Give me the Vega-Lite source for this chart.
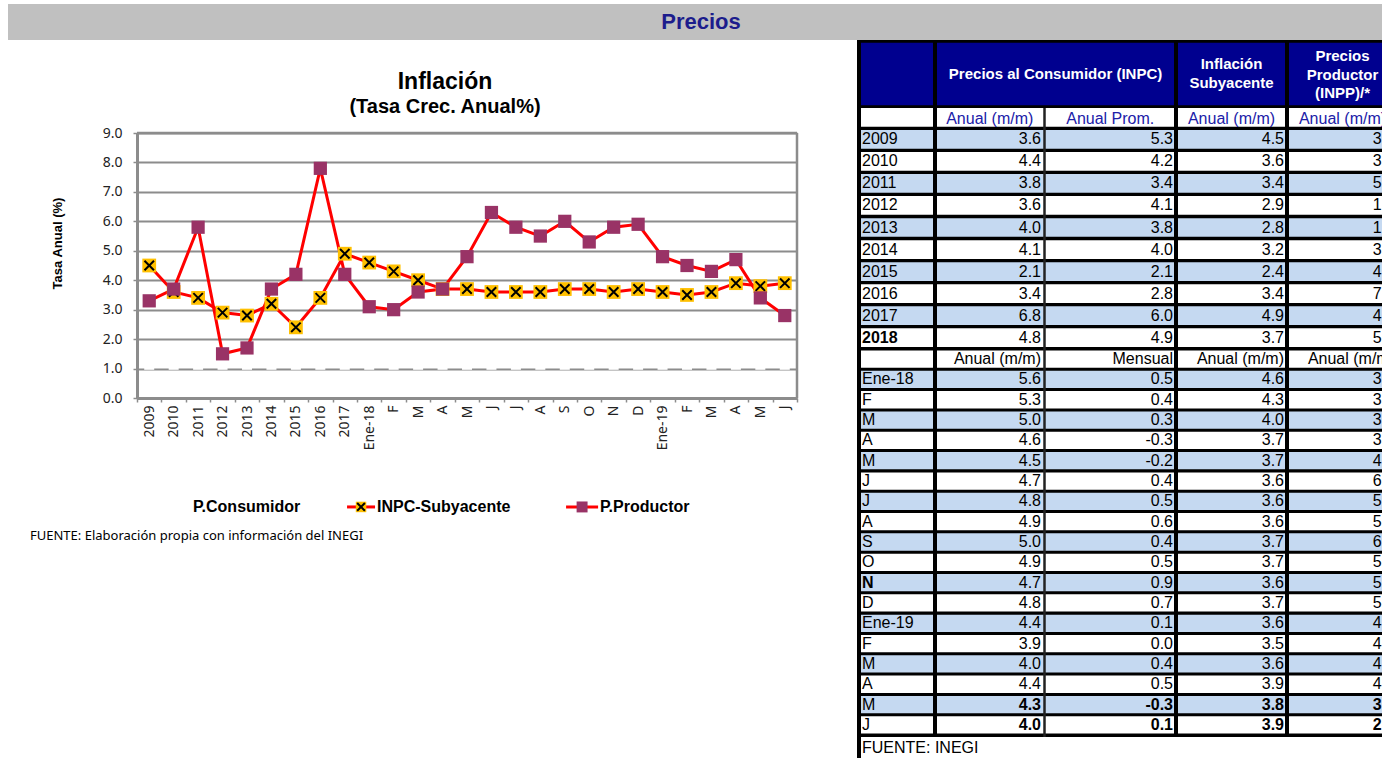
{
  "$schema": "https://vega.github.io/schema/vega-lite/v6.json",
  "padding": {"left": 8, "top": 4, "right": 0, "bottom": 0},
  "config": {
    "view": {"stroke": null},
    "font": "Liberation Sans",
    "locale": {"number": {"decimal": ".", "thousands": ",", "grouping": [3], "currency": ["$", ""], "minus": "-"}}
  },
  "datasets": {
    "chart": [
      {"i": 0, "cons": 1.0, "sub": 4.5, "prod": 3.3},
      {"i": 1, "cons": 1.0, "sub": 3.6, "prod": 3.7},
      {"i": 2, "cons": 1.0, "sub": 3.4, "prod": 5.8},
      {"i": 3, "cons": 1.0, "sub": 2.9, "prod": 1.5},
      {"i": 4, "cons": 1.0, "sub": 2.8, "prod": 1.7},
      {"i": 5, "cons": 1.0, "sub": 3.2, "prod": 3.7},
      {"i": 6, "cons": 1.0, "sub": 2.4, "prod": 4.2},
      {"i": 7, "cons": 1.0, "sub": 3.4, "prod": 7.8},
      {"i": 8, "cons": 1.0, "sub": 4.9, "prod": 4.2},
      {"i": 9, "cons": 1.0, "sub": 4.6, "prod": 3.1},
      {"i": 10, "cons": 1.0, "sub": 4.3, "prod": 3.0},
      {"i": 11, "cons": 1.0, "sub": 4.0, "prod": 3.6},
      {"i": 12, "cons": 1.0, "sub": 3.7, "prod": 3.7},
      {"i": 13, "cons": 1.0, "sub": 3.7, "prod": 4.8},
      {"i": 14, "cons": 1.0, "sub": 3.6, "prod": 6.3},
      {"i": 15, "cons": 1.0, "sub": 3.6, "prod": 5.8},
      {"i": 16, "cons": 1.0, "sub": 3.6, "prod": 5.5},
      {"i": 17, "cons": 1.0, "sub": 3.7, "prod": 6.0},
      {"i": 18, "cons": 1.0, "sub": 3.7, "prod": 5.3},
      {"i": 19, "cons": 1.0, "sub": 3.6, "prod": 5.8},
      {"i": 20, "cons": 1.0, "sub": 3.7, "prod": 5.9},
      {"i": 21, "cons": 1.0, "sub": 3.6, "prod": 4.8},
      {"i": 22, "cons": 1.0, "sub": 3.5, "prod": 4.5},
      {"i": 23, "cons": 1.0, "sub": 3.6, "prod": 4.3},
      {"i": 24, "cons": 1.0, "sub": 3.9, "prod": 4.7},
      {"i": 25, "cons": 1.0, "sub": 3.8, "prod": 3.4},
      {"i": 26, "cons": 1.0, "sub": 3.9, "prod": 2.8}
    ],
    "anual": [
      {"r": 0, "lab": ""},
      {"r": 1, "lab": "2009", "a": 3.6, "b": 5.3, "s": 4.5, "p": 3.3},
      {"r": 2, "lab": "2010", "a": 4.4, "b": 4.2, "s": 3.6, "p": 3.7},
      {"r": 3, "lab": "2011", "a": 3.8, "b": 3.4, "s": 3.4, "p": 5.8},
      {"r": 4, "lab": "2012", "a": 3.6, "b": 4.1, "s": 2.9, "p": 1.5},
      {"r": 5, "lab": "2013", "a": 4.0, "b": 3.8, "s": 2.8, "p": 1.7},
      {"r": 6, "lab": "2014", "a": 4.1, "b": 4.0, "s": 3.2, "p": 3.7},
      {"r": 7, "lab": "2015", "a": 2.1, "b": 2.1, "s": 2.4, "p": 4.2},
      {"r": 8, "lab": "2016", "a": 3.4, "b": 2.8, "s": 3.4, "p": 7.8},
      {"r": 9, "lab": "2017", "a": 6.8, "b": 6.0, "s": 4.9, "p": 4.2},
      {"r": 10, "lab": "2018", "a": 4.8, "b": 4.9, "s": 3.7, "p": 5.9}
    ],
    "mensual": [
      {"r": 0, "lab": ""},
      {"r": 1, "lab": "Ene-18", "a": 5.6, "b": 0.5, "s": 4.6, "p": 3.1},
      {"r": 2, "lab": "F", "a": 5.3, "b": 0.4, "s": 4.3, "p": 3.0},
      {"r": 3, "lab": "M", "a": 5.0, "b": 0.3, "s": 4.0, "p": 3.6},
      {"r": 4, "lab": "A", "a": 4.6, "b": -0.3, "s": 3.7, "p": 3.7},
      {"r": 5, "lab": "M", "a": 4.5, "b": -0.2, "s": 3.7, "p": 4.8},
      {"r": 6, "lab": "J", "a": 4.7, "b": 0.4, "s": 3.6, "p": 6.3},
      {"r": 7, "lab": "J", "a": 4.8, "b": 0.5, "s": 3.6, "p": 5.8},
      {"r": 8, "lab": "A", "a": 4.9, "b": 0.6, "s": 3.6, "p": 5.5},
      {"r": 9, "lab": "S", "a": 5.0, "b": 0.4, "s": 3.7, "p": 6.0},
      {"r": 10, "lab": "O", "a": 4.9, "b": 0.5, "s": 3.7, "p": 5.3},
      {"r": 11, "lab": "N", "a": 4.7, "b": 0.9, "s": 3.6, "p": 5.8},
      {"r": 12, "lab": "D", "a": 4.8, "b": 0.7, "s": 3.7, "p": 5.9},
      {"r": 13, "lab": "Ene-19", "a": 4.4, "b": 0.1, "s": 3.6, "p": 4.8},
      {"r": 14, "lab": "F", "a": 3.9, "b": 0.0, "s": 3.5, "p": 4.5},
      {"r": 15, "lab": "M", "a": 4.0, "b": 0.4, "s": 3.6, "p": 4.3},
      {"r": 16, "lab": "A", "a": 4.4, "b": 0.5, "s": 3.9, "p": 4.7},
      {"r": 17, "lab": "M", "a": 4.3, "b": -0.3, "s": 3.8, "p": 3.4},
      {"r": 18, "lab": "J", "a": 4.0, "b": 0.1, "s": 3.9, "p": 2.8}
    ]
  },
  "spacing": 0,
  "bounds": "flush",
  "vconcat": [
    {
      "width": 1374,
      "height": 36,
      "view": {"fill": "#c0c0c0", "stroke": null},
      "data": {"values": [{"t": "Precios"}]},
      "mark": {"type": "text", "font": "Liberation Sans", "fontSize": 22, "fontWeight": "bold", "fill": "#1c1c8c", "align": "center", "baseline": "middle", "dx": 6},
      "encoding": {"text": {"field": "t", "type": "nominal"}}
    },
    {
      "spacing": 60,
      "bounds": "flush",
      "hconcat": [
        {"width": 69, "height": 10, "data": {"values": []}, "mark": "point"},
        {
          "width": 660,
          "height": 358,
          "title": {
            "text": "Inflación",
            "subtitle": "(Tasa Crec. Anual%)",
            "font": "Liberation Sans", "fontSize": 23, "fontWeight": "bold", "color": "#000000",
            "subtitleFont": "Liberation Sans", "subtitleFontSize": 20, "subtitleFontWeight": "bold", "subtitleColor": "#000000",
            "subtitlePadding": 3, "anchor": "middle", "dx": -22, "offset": -77
          },
          "data": {"name": "chart"},
          "encoding": {
            "x": {
              "field": "i", "type": "ordinal",
              "scale": {"type": "band", "paddingInner": 0, "paddingOuter": 0},
              "axis": {
                "title": null, "labelAngle": -90, "labelFont": "Noto Sans", "labelFontSize": 14, "labelColor": "#222222",
                "labelPadding": 3, "tickBand": "extent", "tickSize": 4, "tickColor": "#8c8c8c", "tickWidth": 1.5,
                "domainColor": "#8c8c8c", "domainWidth": 3, "grid": false, "labelOverlap": false,
                "labelExpr": "['2009','2010','2011','2012','2013','2014','2015','2016','2017','Ene-18','F','M','A','M','J','J','A','S','O','N','D','Ene-19','F','M','A','M','J'][datum.value]"
              }
            }
          },
          "layer": [
            {
              "mark": {"type": "line", "stroke": "#ff0000", "strokeWidth": 3},
              "encoding": {
                "y": {
                  "field": "sub", "type": "quantitative", "title": "Tasa Anual  (%)",
                  "scale": {"domain": [0, 9], "range": [358, 93], "nice": false, "zero": true},
                  "axis": {
                    "title": "Tasa Anual  (%)", "values": [0, 1, 2, 3, 4, 5, 6, 7, 8, 9], "tickCount": 10, "format": ".1f", "labelOverlap": false,
                    "grid": true, "gridColor": "#8c8c8c", "gridWidth": 1.8,
                    "domainColor": "#8c8c8c", "domainWidth": 3, "tickColor": "#8c8c8c", "tickSize": 4, "tickWidth": 1.5,
                    "labelFont": "Noto Sans", "labelFontSize": 14, "labelColor": "#222222", "labelPadding": 11,
                    "titleFont": "Liberation Sans", "titleFontSize": 13, "titleFontWeight": "bold", "titleColor": "#000000",
                    "titleX": -80, "titleY": 203, "titleAlign": "center", "titleBaseline": "middle"
                  }
                }
              }
            },
            {
              "mark": {"type": "line", "stroke": "#ff0000", "strokeWidth": 3},
              "encoding": {"y": {"field": "prod", "type": "quantitative", "title": "Tasa Anual  (%)"}}
            },
            {
              "data": {"values": [{}]},
              "mark": {"type": "rule", "stroke": "#8c8c8c", "strokeWidth": 2.5},
              "encoding": {
                "x": {"datum": 0, "type": "ordinal", "bandPosition": 0, "title": null},
                "x2": {"datum": 26, "bandPosition": 1},
                "y": {"datum": 9, "type": "quantitative", "title": "Tasa Anual  (%)"}
              }
            },
            {
              "data": {"values": [{}]},
              "mark": {"type": "rule", "stroke": "#8c8c8c", "strokeWidth": 2.5},
              "encoding": {
                "x": {"datum": 26, "type": "ordinal", "bandPosition": 1, "title": null},
                "y": {"datum": 0, "type": "quantitative", "title": "Tasa Anual  (%)"},
                "y2": {"datum": 9}
              }
            },
            {
              "mark": {"type": "point", "shape": "stroke", "filled": false, "stroke": "#ffffff", "strokeWidth": 2.5, "size": 100, "opacity": 1},
              "encoding": {"y": {"field": "cons", "type": "quantitative", "title": "Tasa Anual  (%)"}}
            },
            {
              "mark": {"type": "point", "shape": "square", "filled": true, "fill": "#ffc000", "size": 190, "opacity": 1},
              "encoding": {"y": {"field": "sub", "type": "quantitative", "title": "Tasa Anual  (%)"}}
            },
            {
              "mark": {"type": "point", "shape": "M-1,-1L1,1M-1,1L1,-1", "filled": false, "stroke": "#000000", "strokeWidth": 2, "size": 90, "opacity": 1},
              "encoding": {"y": {"field": "sub", "type": "quantitative", "title": "Tasa Anual  (%)"}}
            },
            {
              "mark": {"type": "point", "shape": "square", "filled": true, "fill": "#993366", "size": 175, "opacity": 1},
              "encoding": {"y": {"field": "prod", "type": "quantitative", "title": "Tasa Anual  (%)"}}
            },
            {
              "data": {"values": [{}]},
              "mark": {"type": "text", "align": "left", "baseline": "middle", "font": "Liberation Sans", "fontSize": 16, "fontWeight": "bold", "fill": "#000000"},
              "encoding": {
                "x": {"datum": 2, "type": "ordinal", "bandPosition": 0.29, "title": null},
                "y": {"datum": -3.7, "type": "quantitative", "title": "Tasa Anual  (%)"},
                "text": {"value": "P.Consumidor"}
              }
            },
            {
              "data": {"values": [{}]},
              "mark": {"type": "rule", "stroke": "#ff0000", "strokeWidth": 3},
              "encoding": {
                "x": {"datum": 8, "type": "ordinal", "bandPosition": 0.593, "title": null},
                "x2": {"datum": 9, "bandPosition": 0.738},
                "y": {"datum": -3.7, "type": "quantitative", "title": "Tasa Anual  (%)"}
              }
            },
            {
              "data": {"values": [{}]},
              "mark": {"type": "point", "shape": "square", "filled": true, "fill": "#ffc000", "size": 110, "opacity": 1},
              "encoding": {
                "x": {"datum": 9, "type": "ordinal", "bandPosition": 0.165, "title": null},
                "y": {"datum": -3.7, "type": "quantitative", "title": "Tasa Anual  (%)"}
              }
            },
            {
              "data": {"values": [{}]},
              "mark": {"type": "point", "shape": "M-1,-1L1,1M-1,1L1,-1", "filled": false, "stroke": "#000000", "strokeWidth": 2, "size": 60, "opacity": 1},
              "encoding": {
                "x": {"datum": 9, "type": "ordinal", "bandPosition": 0.165, "title": null},
                "y": {"datum": -3.7, "type": "quantitative", "title": "Tasa Anual  (%)"}
              }
            },
            {
              "data": {"values": [{}]},
              "mark": {"type": "text", "align": "left", "baseline": "middle", "font": "Liberation Sans", "fontSize": 16, "fontWeight": "bold", "fill": "#000000"},
              "encoding": {
                "x": {"datum": 9, "type": "ordinal", "bandPosition": 0.82, "title": null},
                "y": {"datum": -3.7, "type": "quantitative", "title": "Tasa Anual  (%)"},
                "text": {"value": "INPC-Subyacente"}
              }
            },
            {
              "data": {"values": [{}]},
              "mark": {"type": "rule", "stroke": "#ff0000", "strokeWidth": 3},
              "encoding": {
                "x": {"datum": 17, "type": "ordinal", "bandPosition": 0.553, "title": null},
                "x2": {"datum": 18, "bandPosition": 0.863},
                "y": {"datum": -3.7, "type": "quantitative", "title": "Tasa Anual  (%)"}
              }
            },
            {
              "data": {"values": [{}]},
              "mark": {"type": "point", "shape": "square", "filled": true, "fill": "#993366", "size": 120, "opacity": 1},
              "encoding": {
                "x": {"datum": 18, "type": "ordinal", "bandPosition": 0.208, "title": null},
                "y": {"datum": -3.7, "type": "quantitative", "title": "Tasa Anual  (%)"}
              }
            },
            {
              "data": {"values": [{}]},
              "mark": {"type": "text", "align": "left", "baseline": "middle", "font": "Liberation Sans", "fontSize": 16, "fontWeight": "bold", "fill": "#000000"},
              "encoding": {
                "x": {"datum": 18, "type": "ordinal", "bandPosition": 0.94, "title": null},
                "y": {"datum": -3.7, "type": "quantitative", "title": "Tasa Anual  (%)"},
                "text": {"value": "P.Productor"}
              }
            },
            {
              "data": {"values": [{}]},
              "mark": {"type": "text", "align": "left", "baseline": "middle", "font": "Noto Sans", "fontSize": 13, "fill": "#000000", "dx": -107},
              "encoding": {
                "x": {"datum": 0, "type": "ordinal", "bandPosition": 0, "title": null},
                "y": {"datum": -4.7, "type": "quantitative", "title": "Tasa Anual  (%)"},
                "text": {"value": "FUENTE: Elaboración propia con información del INEGI"}
              }
            }
          ]
        },
        {
          "spacing": 0,
          "bounds": "flush",
          "vconcat": [
            {
              "width": 525,
              "height": 68,
              "view": {"fill": "#000000", "stroke": null},
              "data": {"values": [{"k": "h"}]},
              "layer": [
                {
                  "mark": {"type": "rect", "fill": "#00008f", "clip": true},
                  "encoding": {
                    "x": {"datum": 0, "type": "quantitative", "axis": null, "scale": {"domain": [0, 1, 2, 3, 4, 5], "range": [0, 78, 187.5, 319, 430, 541], "nice": false, "zero": false}},
                    "x2": {"datum": 5},
                    "y": {"field": "k", "type": "nominal", "axis": null, "scale": {"paddingInner": 0, "paddingOuter": 0.045}}
                  }
                },
                {"mark": {"type": "rule", "stroke": "#000000", "strokeWidth": 8, "clip": true}, "encoding": {"x": {"datum": 0, "type": "quantitative"}}},
                {"mark": {"type": "rule", "stroke": "#000000", "strokeWidth": 4, "clip": true}, "encoding": {"x": {"datum": 1, "type": "quantitative"}}},
                {"mark": {"type": "rule", "stroke": "#000000", "strokeWidth": 4, "clip": true}, "encoding": {"x": {"datum": 3, "type": "quantitative"}}},
                {"mark": {"type": "rule", "stroke": "#000000", "strokeWidth": 4, "clip": true}, "encoding": {"x": {"datum": 4, "type": "quantitative"}}},
                {
                  "mark": {"type": "text", "fill": "#ffffff", "fontSize": 15, "fontWeight": "bold", "align": "center", "baseline": "middle", "clip": true},
                  "encoding": {"x": {"datum": 2.084, "type": "quantitative"}, "text": {"value": "Precios al Consumidor (INPC)"}}
                },
                {
                  "mark": {"type": "text", "fill": "#ffffff", "fontSize": 15, "fontWeight": "bold", "align": "center", "baseline": "middle", "lineHeight": 19, "dy": -10, "clip": true},
                  "encoding": {"x": {"datum": 3.5, "type": "quantitative"}, "text": {"value": ["Inflación", "Subyacente"]}}
                },
                {
                  "mark": {"type": "text", "fill": "#ffffff", "fontSize": 15, "fontWeight": "bold", "align": "center", "baseline": "middle", "lineHeight": 18.5, "dy": -18, "clip": true},
                  "encoding": {"x": {"datum": 4.5, "type": "quantitative"}, "text": {"value": ["Precios", "Productor", "(INPP)/*"]}}
                }
              ]
            },
            {
              "width": 525,
              "height": 239,
              "view": {"fill": "#000000", "stroke": null},
              "data": {"name": "anual"},
              "layer": [
                {
                  "mark": {"type": "rect", "clip": true},
                  "encoding": {
                    "x": {"datum": 0, "type": "quantitative", "axis": null, "scale": {"domain": [0, 1, 2, 3, 4, 5], "range": [0, 78, 187.5, 319, 430, 541], "nice": false, "zero": false}},
                    "x2": {"datum": 5},
                    "y": {"field": "r", "type": "ordinal", "axis": null, "scale": {"paddingInner": 0.15, "paddingOuter": 0}},
                    "fill": {"condition": {"test": "datum.r % 2 == 1", "value": "#c5d9f1"}, "value": "#ffffff"}
                  }
                },
                {"data": {"values": [{}]}, "mark": {"type": "rule", "stroke": "#000000", "strokeWidth": 8, "clip": true}, "encoding": {"x": {"datum": 0, "type": "quantitative"}}},
                {"data": {"values": [{}]}, "mark": {"type": "rule", "stroke": "#000000", "strokeWidth": 4, "clip": true}, "encoding": {"x": {"datum": 1, "type": "quantitative"}}},
                {"data": {"values": [{}]}, "mark": {"type": "rule", "stroke": "#222222", "strokeWidth": 2.5, "clip": true}, "encoding": {"x": {"datum": 2, "type": "quantitative"}}},
                {"data": {"values": [{}]}, "mark": {"type": "rule", "stroke": "#000000", "strokeWidth": 4, "clip": true}, "encoding": {"x": {"datum": 3, "type": "quantitative"}}},
                {"data": {"values": [{}]}, "mark": {"type": "rule", "stroke": "#000000", "strokeWidth": 4, "clip": true}, "encoding": {"x": {"datum": 4, "type": "quantitative"}}},
                {
                  "mark": {"type": "text", "align": "left", "baseline": "middle", "dx": 5, "fontSize": 16, "fill": "#000000", "fontWeight": {"expr": "datum.r == 10 ? 'bold' : 'normal'"}, "clip": true},
                  "encoding": {"x": {"datum": 0, "type": "quantitative"}, "y": {"field": "r", "type": "ordinal"}, "text": {"field": "lab", "type": "nominal"}}
                },
                {
                  "transform": [{"filter": "isValid(datum.a)"}],
                  "mark": {"type": "text", "align": "right", "baseline": "middle", "dx": -3.5, "fontSize": 16, "fill": "#000000", "clip": true},
                  "encoding": {"x": {"datum": 2, "type": "quantitative"}, "y": {"field": "r", "type": "ordinal"}, "text": {"field": "a", "type": "quantitative", "format": ".1f"}}
                },
                {
                  "transform": [{"filter": "isValid(datum.b)"}],
                  "mark": {"type": "text", "align": "right", "baseline": "middle", "dx": -3, "fontSize": 16, "fill": "#000000", "clip": true},
                  "encoding": {"x": {"datum": 3, "type": "quantitative"}, "y": {"field": "r", "type": "ordinal"}, "text": {"field": "b", "type": "quantitative", "format": ".1f"}}
                },
                {
                  "transform": [{"filter": "isValid(datum.s)"}],
                  "mark": {"type": "text", "align": "right", "baseline": "middle", "dx": -3, "fontSize": 16, "fill": "#000000", "clip": true},
                  "encoding": {"x": {"datum": 4, "type": "quantitative"}, "y": {"field": "r", "type": "ordinal"}, "text": {"field": "s", "type": "quantitative", "format": ".1f"}}
                },
                {
                  "transform": [{"filter": "isValid(datum.p)"}],
                  "mark": {"type": "text", "align": "right", "baseline": "middle", "dx": -3, "fontSize": 16, "fill": "#000000", "clip": true},
                  "encoding": {"x": {"datum": 5, "type": "quantitative"}, "y": {"field": "r", "type": "ordinal"}, "text": {"field": "p", "type": "quantitative", "format": ".1f"}}
                },
                {
                  "data": {"values": [{}]},
                  "mark": {"type": "text", "align": "center", "baseline": "middle", "dy": 2, "fontSize": 16, "fill": "#2020a8", "clip": true},
                  "encoding": {"x": {"datum": 1.5, "type": "quantitative"}, "y": {"datum": 0, "type": "ordinal"}, "text": {"value": "Anual (m/m)"}}
                },
                {
                  "data": {"values": [{}]},
                  "mark": {"type": "text", "align": "center", "baseline": "middle", "dy": 2, "fontSize": 16, "fill": "#2020a8", "clip": true},
                  "encoding": {"x": {"datum": 2.5, "type": "quantitative"}, "y": {"datum": 0, "type": "ordinal"}, "text": {"value": "Anual Prom."}}
                },
                {
                  "data": {"values": [{}]},
                  "mark": {"type": "text", "align": "center", "baseline": "middle", "dy": 2, "fontSize": 16, "fill": "#2020a8", "clip": true},
                  "encoding": {"x": {"datum": 3.5, "type": "quantitative"}, "y": {"datum": 0, "type": "ordinal"}, "text": {"value": "Anual (m/m)"}}
                },
                {
                  "data": {"values": [{}]},
                  "mark": {"type": "text", "align": "center", "baseline": "middle", "dy": 2, "fontSize": 16, "fill": "#2020a8", "clip": true},
                  "encoding": {"x": {"datum": 4.5, "type": "quantitative"}, "y": {"datum": 0, "type": "ordinal"}, "text": {"value": "Anual (m/m)"}}
                }
              ]
            },
            {
              "width": 525,
              "height": 390,
              "view": {"fill": "#000000", "stroke": null},
              "data": {"name": "mensual"},
              "layer": [
                {
                  "mark": {"type": "rect", "clip": true},
                  "encoding": {
                    "x": {"datum": 0, "type": "quantitative", "axis": null, "scale": {"domain": [0, 1, 2, 3, 4, 5], "range": [0, 78, 187.5, 319, 430, 541], "nice": false, "zero": false}},
                    "x2": {"datum": 5},
                    "y": {"field": "r", "type": "ordinal", "axis": null, "scale": {"paddingInner": 0.15, "paddingOuter": 0.17}},
                    "fill": {"condition": {"test": "datum.r % 2 == 1", "value": "#c5d9f1"}, "value": "#ffffff"}
                  }
                },
                {"data": {"values": [{}]}, "mark": {"type": "rule", "stroke": "#000000", "strokeWidth": 8, "clip": true}, "encoding": {"x": {"datum": 0, "type": "quantitative"}}},
                {"data": {"values": [{}]}, "mark": {"type": "rule", "stroke": "#000000", "strokeWidth": 4, "clip": true}, "encoding": {"x": {"datum": 1, "type": "quantitative"}}},
                {"data": {"values": [{}]}, "mark": {"type": "rule", "stroke": "#222222", "strokeWidth": 2.5, "clip": true}, "encoding": {"x": {"datum": 2, "type": "quantitative"}}},
                {"data": {"values": [{}]}, "mark": {"type": "rule", "stroke": "#000000", "strokeWidth": 4, "clip": true}, "encoding": {"x": {"datum": 3, "type": "quantitative"}}},
                {"data": {"values": [{}]}, "mark": {"type": "rule", "stroke": "#000000", "strokeWidth": 4, "clip": true}, "encoding": {"x": {"datum": 4, "type": "quantitative"}}},
                {
                  "mark": {"type": "text", "align": "left", "baseline": "middle", "dx": 5, "fontSize": 16, "fill": "#000000", "fontWeight": {"expr": "datum.r == 11 ? 'bold' : 'normal'"}, "clip": true},
                  "encoding": {"x": {"datum": 0, "type": "quantitative"}, "y": {"field": "r", "type": "ordinal"}, "text": {"field": "lab", "type": "nominal"}}
                },
                {
                  "transform": [{"filter": "isValid(datum.a)"}],
                  "mark": {"type": "text", "align": "right", "baseline": "middle", "dx": -3.5, "fontSize": 16, "fill": "#000000", "fontWeight": {"expr": "datum.r >= 17 ? 'bold' : 'normal'"}, "clip": true},
                  "encoding": {"x": {"datum": 2, "type": "quantitative"}, "y": {"field": "r", "type": "ordinal"}, "text": {"field": "a", "type": "quantitative", "format": ".1f"}}
                },
                {
                  "transform": [{"filter": "isValid(datum.b)"}],
                  "mark": {"type": "text", "align": "right", "baseline": "middle", "dx": -3, "fontSize": 16, "fill": "#000000", "fontWeight": {"expr": "datum.r >= 17 ? 'bold' : 'normal'"}, "clip": true},
                  "encoding": {"x": {"datum": 3, "type": "quantitative"}, "y": {"field": "r", "type": "ordinal"}, "text": {"field": "b", "type": "quantitative", "format": ".1f"}}
                },
                {
                  "transform": [{"filter": "isValid(datum.s)"}],
                  "mark": {"type": "text", "align": "right", "baseline": "middle", "dx": -3, "fontSize": 16, "fill": "#000000", "fontWeight": {"expr": "datum.r >= 17 ? 'bold' : 'normal'"}, "clip": true},
                  "encoding": {"x": {"datum": 4, "type": "quantitative"}, "y": {"field": "r", "type": "ordinal"}, "text": {"field": "s", "type": "quantitative", "format": ".1f"}}
                },
                {
                  "transform": [{"filter": "isValid(datum.p)"}],
                  "mark": {"type": "text", "align": "right", "baseline": "middle", "dx": -3, "fontSize": 16, "fill": "#000000", "fontWeight": {"expr": "datum.r >= 17 ? 'bold' : 'normal'"}, "clip": true},
                  "encoding": {"x": {"datum": 5, "type": "quantitative"}, "y": {"field": "r", "type": "ordinal"}, "text": {"field": "p", "type": "quantitative", "format": ".1f"}}
                },
                {
                  "data": {"values": [{}]},
                  "mark": {"type": "text", "align": "right", "baseline": "middle", "dx": -3.5, "fontSize": 16, "fill": "#000000", "clip": true},
                  "encoding": {"x": {"datum": 2, "type": "quantitative"}, "y": {"datum": 0, "type": "ordinal"}, "text": {"value": "Anual (m/m)"}}
                },
                {
                  "data": {"values": [{}]},
                  "mark": {"type": "text", "align": "right", "baseline": "middle", "dx": -3, "fontSize": 16, "fill": "#000000", "clip": true},
                  "encoding": {"x": {"datum": 3, "type": "quantitative"}, "y": {"datum": 0, "type": "ordinal"}, "text": {"value": "Mensual"}}
                },
                {
                  "data": {"values": [{}]},
                  "mark": {"type": "text", "align": "right", "baseline": "middle", "dx": -3, "fontSize": 16, "fill": "#000000", "clip": true},
                  "encoding": {"x": {"datum": 4, "type": "quantitative"}, "y": {"datum": 0, "type": "ordinal"}, "text": {"value": "Anual (m/m)"}}
                },
                {
                  "data": {"values": [{}]},
                  "mark": {"type": "text", "align": "right", "baseline": "middle", "dx": -3, "fontSize": 16, "fill": "#000000", "clip": true},
                  "encoding": {"x": {"datum": 5, "type": "quantitative"}, "y": {"datum": 0, "type": "ordinal"}, "text": {"value": "Anual (m/m)"}}
                }
              ]
            },
            {
              "width": 525,
              "height": 21,
              "view": {"fill": "#ffffff", "stroke": null},
              "data": {"values": [{"t": "FUENTE: INEGI"}]},
              "layer": [
                {
                  "mark": {"type": "rule", "stroke": "#000000", "strokeWidth": 8, "clip": true},
                  "encoding": {"x": {"datum": 0, "type": "quantitative", "axis": null, "scale": {"domain": [0, 1, 2, 3, 4, 5], "range": [0, 78, 187.5, 319, 430, 541], "nice": false, "zero": false}}}
                },
                {
                  "mark": {"type": "text", "align": "left", "baseline": "middle", "dx": 5, "fontSize": 16, "fill": "#000000", "clip": true},
                  "encoding": {"x": {"datum": 0, "type": "quantitative"}, "text": {"field": "t", "type": "nominal"}}
                }
              ]
            }
          ]
        }
      ]
    }
  ]
}
